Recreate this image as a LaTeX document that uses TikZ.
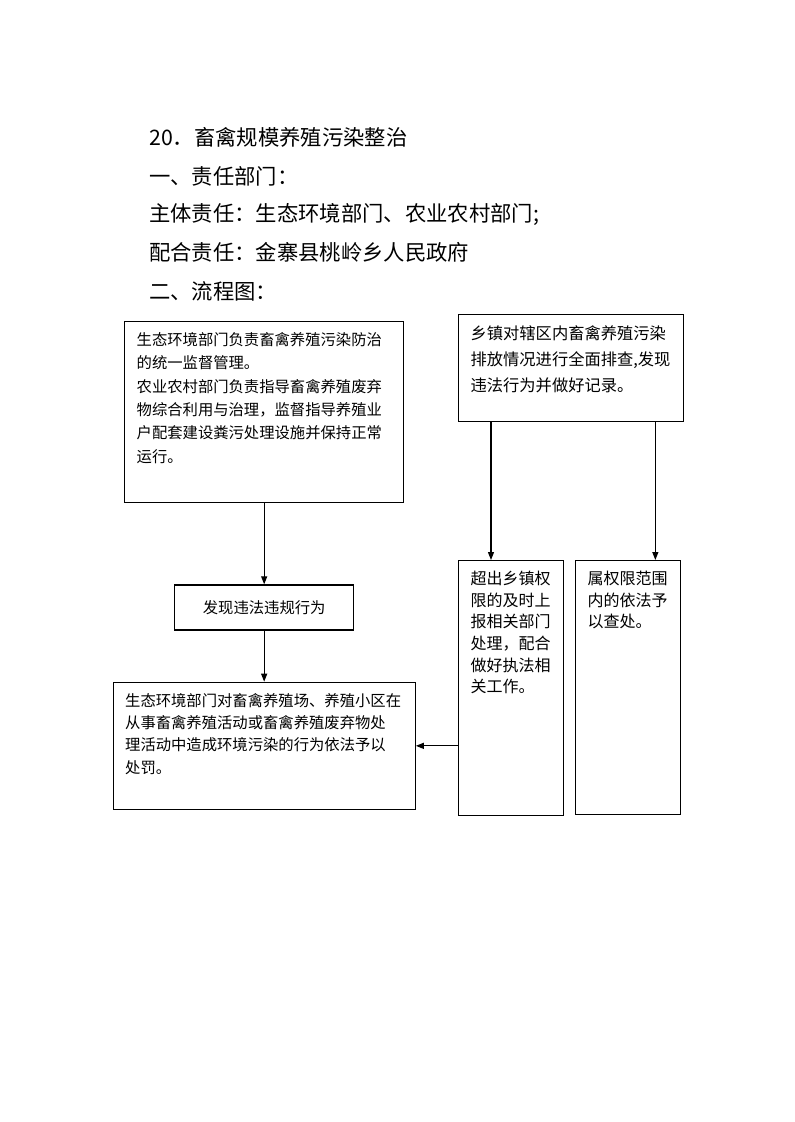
\documentclass[tikz,border=0pt]{standalone}
\usepackage{fontspec}
\setmainfont{Noto Sans CJK SC}
\usetikzlibrary{arrows.meta, positioning, calc}

\begin{document}
\begin{tikzpicture}[
x=0.75pt, y=-0.75pt,
box/.style={
draw,
line width=1pt,
inner xsep=9pt,
inner ysep=8pt,
font=\fontsize{11.5pt}{17.5pt}\selectfont
},
head/.style={
anchor=west,
inner sep=0pt,
font=\fontsize{16pt}{20pt}\selectfont
},
arrow/.style={-{Triangle[length=6pt,width=4.5pt]}, line width=0.9pt}
]

\useasboundingbox (0,0) rectangle (794,1122);

% ------------------------
% Heading lines
% ------------------------
\node[head] (title) at (149,137) {20．畜禽规模养殖污染整治};
\node[head] (dept) at (149,176) {一、责任部门：};
\node[head] (lead) at (149,214) {主体责任：生态环境部门、农业农村部门;};
\node[head] (assist) at (149,252) {配合责任：金寨县桃岭乡人民政府};
\node[head] (flow) at (149,291) {二、流程图：};

% ------------------------
% Left column
% ------------------------
\node[box, anchor=north west] (boxA) at (124,321)
{\parbox[c][119.75pt][t]{191.25pt}{生态环境部门负责畜禽养殖污染防治\\
的统一监督管理。\\
农业农村部门负责指导畜禽养殖废弃\\
物综合利用与治理，监督指导养殖业\\
户配套建设粪污处理设施并保持正常\\
运行。}};

\node[box, below=60.75pt of boxA, minimum width=134.25pt, minimum height=33.75pt] (boxC)
{发现违法违规行为};

\node[box, below=38.25pt of boxC, font=\fontsize{11.5pt}{16.75pt}\selectfont] (boxD)
{\parbox[c][79.25pt][t]{208.5pt}{生态环境部门对畜禽养殖场、养殖小区在\\
从事畜禽养殖活动或畜禽养殖废弃物处\\
理活动中造成环境污染的行为依法予以\\
处罚。}};

% ------------------------
% Right column
% ------------------------
\node[box, anchor=north west, font=\fontsize{12.2pt}{19.5pt}\selectfont] (boxB) at (458,314)
{\parbox[c][64.25pt][t]{150.75pt}{乡镇对辖区内畜禽养殖污染\\
排放情况进行全面排查,发现\\
违法行为并做好记录。}};

\node[box, anchor=north west, font=\fontsize{12pt}{16.2pt}\selectfont] (boxE) at (458,560)
{\parbox[c][175.25pt][t]{60.75pt}{超出乡镇权\\
限的及时上\\
报相关部门\\
处理，配合\\
做好执法相\\
关工作。}};

\node[box, anchor=north west, font=\fontsize{12pt}{16.2pt}\selectfont] (boxF) at (575,560)
{\parbox[c][174.5pt][t]{60.75pt}{属权限范围\\
内的依法予\\
以查处。}};

% ------------------------
% Arrows
% ------------------------
\draw[arrow] (boxA.south) -- (boxC.north);
\draw[arrow] (boxC.south) -- (boxD.north);

\coordinate (split1) at ($(boxB.south west)+(33,0)$);
\coordinate (split2) at ($(boxB.south east)+(-29,0)$);
\draw[arrow] (split1) -- (split1 |- boxE.north);
\draw[arrow] (split2) -- (split2 |- boxF.north);

\draw[arrow] (boxE.west |- boxD.east) -- (boxD.east);

\end{tikzpicture}
\end{document}
